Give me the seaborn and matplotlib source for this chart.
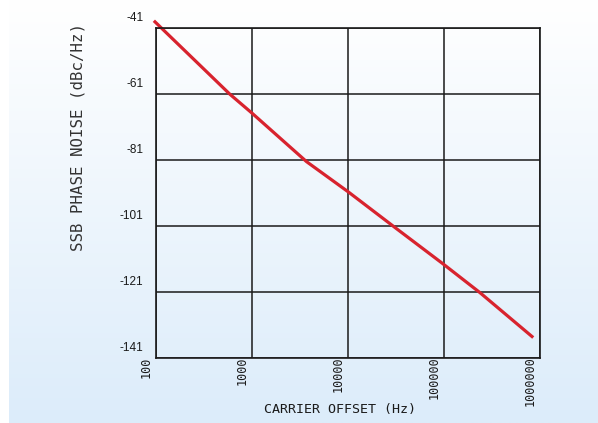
import numpy as np
import pandas as pd
import matplotlib
matplotlib.use("Agg")
import matplotlib.pyplot as plt
import matplotlib.transforms as mtransforms
from matplotlib.colors import LinearSegmentedColormap
import seaborn as sns

# values
offset_hz = [95, 590, 1000, 3700, 10000, 31000, 96000, 237000, 850000]
noise_dbc = [-38.8, -61.1, -66.8, -81.5, -90.6, -101.5, -112.3, -121.2, -134.8]
y_ticks = [-41, -61, -81, -101, -121, -141]
x_ticks = [100, 1000, 10000, 100000, 1000000]
x_ticklabels = ['100', '1000', '10000', '100000', '1000000']

LINE_RED = '#D8232E'
INK = '#1A1A1A'

sns.set_style('white')
plt.rcParams['font.family'] = ['DejaVu Sans Mono', 'DejaVu Sans']

fig = plt.figure(figsize=(5.98, 4.23), dpi=100)

# gradient page background (white at top, pale blue at bottom)
bg = fig.add_axes([0, 0, 1, 1], zorder=-10)
grad = np.linspace(0, 1, 256).reshape(-1, 1)
cmap = LinearSegmentedColormap.from_list('page', ['#DCECFA', '#FFFFFF'])
bg.imshow(grad, aspect='auto', cmap=cmap, extent=[0, 1, 0, 1], origin='lower')
bg.axvspan(0, 9 / 598, color='white', lw=0)
bg.set_xlim(0, 1)
bg.set_ylim(0, 1)
bg.axis('off')

ax = fig.add_axes([156 / 598, 1 - 358 / 423, 384 / 598, 330 / 423])
ax.set_facecolor('none')

df = pd.DataFrame({'offset': offset_hz, 'noise': noise_dbc})
sns.lineplot(data=df, x='offset', y='noise', color=LINE_RED, lw=2.3, ax=ax,
             sort=False)
for ln in ax.lines:
    ln.set_clip_on(False)
    ln.set_solid_capstyle('butt')

ax.set_xscale('log')
ax.set_xlim(100, 1000000)
ax.set_ylim(-141, -41)
ax.set_xticks(x_ticks)
ax.set_xticklabels(x_ticklabels, rotation=90, fontsize=8.5, va='top')
ax.set_yticks(y_ticks)
ax.set_yticklabels([str(v) for v in y_ticks], fontsize=8.5,
                   family=['Liberation Sans', 'DejaVu Sans'])
ax.minorticks_off()
ax.tick_params(axis='both', length=0, colors=INK)
ax.tick_params(axis='x', pad=-1)
ax.tick_params(axis='y', pad=9)

# labels sit a little off the grid lines, as in the scanned chart
dx = mtransforms.ScaledTranslation(-10 / 100, 0, fig.dpi_scale_trans)
for lab in ax.get_xticklabels():
    lab.set_transform(lab.get_transform() + dx)
dy = mtransforms.ScaledTranslation(0, 12 / 100, fig.dpi_scale_trans)
for lab in ax.get_yticklabels():
    lab.set_transform(lab.get_transform() + dy)

ax.grid(True, which='major', color=INK, lw=1.1)
for s in ax.spines.values():
    s.set_visible(True)
    s.set_color(INK)
    s.set_linewidth(1.2)

ax.set_xlabel('CARRIER OFFSET (Hz)', fontsize=9.6, color=INK)
ax.xaxis.set_label_coords(0.479, -0.155)
ax.xaxis.label.set_va('center')
ax.set_ylabel('SSB PHASE NOISE (dBc/Hz)', fontsize=11.3, color='#333333')
ax.yaxis.set_label_coords(-0.203, 0.67)
ax.yaxis.label.set_va('center')

fig.savefig('out.png', dpi=100)
